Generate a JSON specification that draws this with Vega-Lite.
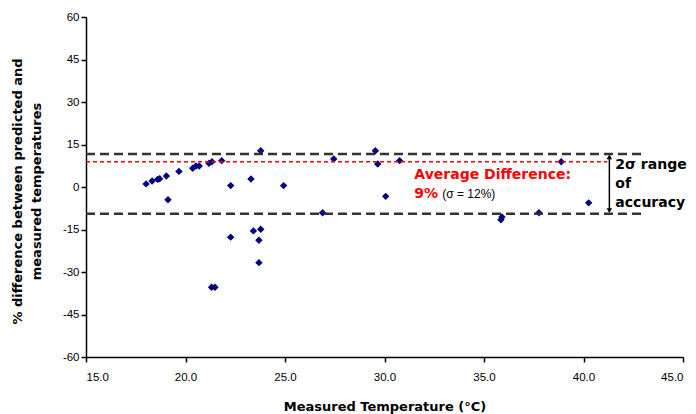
{
  "$schema": "https://vega.github.io/schema/vega-lite/v6.json",
  "width": 597,
  "height": 340,
  "autosize": {"type": "none"},
  "padding": {"left": 86, "top": 17, "right": 13, "bottom": 57},
  "background": "white",
  "config": {
    "view": {"stroke": null},
    "axis": {
      "grid": false,
      "domainColor": "#000000",
      "domainWidth": 1.5,
      "tickColor": "#000000",
      "tickWidth": 1.5,
      "tickSize": 5,
      "labelFont": "Liberation Sans",
      "labelFontSize": 11.5,
      "labelColor": "#000000",
      "titleFont": "DejaVu Sans",
      "titleFontWeight": "bold",
      "titleColor": "#000000"
    }
  },
  "layer": [
    {
      "data": {"values": [
        {"temp": 18.02, "diff": 1.1},
        {"temp": 18.32, "diff": 2.1},
        {"temp": 18.6, "diff": 2.7},
        {"temp": 18.7, "diff": 2.9},
        {"temp": 19.04, "diff": 3.9},
        {"temp": 19.12, "diff": -4.5},
        {"temp": 19.67, "diff": 5.5},
        {"temp": 20.36, "diff": 6.6},
        {"temp": 20.53, "diff": 7.4},
        {"temp": 20.69, "diff": 7.4},
        {"temp": 21.18, "diff": 8.4},
        {"temp": 21.33, "diff": 8.9},
        {"temp": 21.82, "diff": 9.3},
        {"temp": 22.27, "diff": 0.5},
        {"temp": 22.27, "diff": -17.7},
        {"temp": 23.29, "diff": 2.8},
        {"temp": 23.41, "diff": -15.5},
        {"temp": 23.78, "diff": -14.9},
        {"temp": 23.69, "diff": -18.8},
        {"temp": 23.69, "diff": -26.7},
        {"temp": 23.78, "diff": 12.8},
        {"temp": 24.93, "diff": 0.5},
        {"temp": 21.31, "diff": -35.4},
        {"temp": 21.48, "diff": -35.4},
        {"temp": 27.45, "diff": 9.9},
        {"temp": 29.54, "diff": 12.8},
        {"temp": 29.66, "diff": 8.1},
        {"temp": 30.76, "diff": 9.3},
        {"temp": 30.06, "diff": -3.3},
        {"temp": 26.89, "diff": -9.1},
        {"temp": 38.88, "diff": 8.9},
        {"temp": 40.26, "diff": -5.6},
        {"temp": 37.76, "diff": -9.1},
        {"temp": 35.85, "diff": -11.6},
        {"temp": 35.9, "diff": -10.6}
      ]},
      "mark": {"type": "point", "shape": "diamond", "filled": true, "size": 55, "color": "#000080", "opacity": 1},
      "encoding": {
        "x": {
          "field": "temp", "type": "quantitative",
          "scale": {"domain": [15, 45], "nice": false, "zero": false},
          "axis": {
            "values": [15, 20, 25, 30, 35, 40, 45],
            "format": ".1f",
            "labelPadding": 9,
            "title": "Measured Temperature (°C)",
            "titleFontSize": 13,
            "titleBaseline": "alphabetic",
            "titleY": 53
          }
        },
        "y": {
          "field": "diff", "type": "quantitative",
          "scale": {"domain": [-60, 60], "nice": false},
          "axis": {
            "values": [-60, -45, -30, -15, 0, 15, 30, 45, 60],
            "format": "d",
            "labelExpr": "replace(datum.label, '\u2212', '-')",
            "labelPadding": 2,
            "title": ["% difference between predicted and", "measured temperatures"],
            "titleFontSize": 13,
            "titleLineHeight": 19,
            "titleAngle": -90,
            "titleAlign": "center",
            "titleBaseline": "middle",
            "titleX": -69,
            "titleY": 174
          }
        }
      }
    },
    {
      "data": {"values": [{"diff": 11.65}, {"diff": -9.42}]},
      "mark": {"type": "rule", "strokeDash": [9, 5], "strokeWidth": 2.5, "color": "#333333"},
      "encoding": {
        "x": {"datum": 15, "type": "quantitative"},
        "x2": {"datum": 43.1},
        "y": {"field": "diff", "type": "quantitative"}
      }
    },
    {
      "data": {"values": [{"diff": 8.93}]},
      "mark": {"type": "rule", "strokeDash": [4, 3], "strokeWidth": 1.5, "color": "#ff0000"},
      "encoding": {
        "x": {"datum": 15, "type": "quantitative"},
        "x2": {"datum": 41.2},
        "y": {"field": "diff", "type": "quantitative"}
      }
    },
    {
      "data": {"values": [{}]},
      "mark": {"type": "rule", "strokeWidth": 1.5, "color": "#000000"},
      "encoding": {
        "x": {"datum": 41.3, "type": "quantitative"},
        "y": {"datum": 10.8, "type": "quantitative"},
        "y2": {"datum": -8.6}
      }
    },
    {
      "data": {"values": [{}]},
      "mark": {"type": "point", "shape": "triangle-up", "filled": true, "size": 30, "color": "#000000", "opacity": 1},
      "encoding": {
        "x": {"datum": 41.3, "type": "quantitative"},
        "y": {"datum": 10.6, "type": "quantitative"}
      }
    },
    {
      "data": {"values": [{}]},
      "mark": {"type": "point", "shape": "triangle-down", "filled": true, "size": 30, "color": "#000000", "opacity": 1},
      "encoding": {
        "x": {"datum": 41.3, "type": "quantitative"},
        "y": {"datum": -8.35, "type": "quantitative"}
      }
    },
    {
      "data": {"values": [{}]},
      "mark": {"type": "text", "text": "Average Difference:", "align": "left", "baseline": "middle", "font": "DejaVu Sans", "fontWeight": "bold", "fontSize": 14, "color": "#ff0000"},
      "encoding": {
        "x": {"datum": 31.5, "type": "quantitative"},
        "y": {"datum": 4.2, "type": "quantitative"}
      }
    },
    {
      "data": {"values": [{}]},
      "mark": {"type": "text", "text": "9%", "align": "left", "baseline": "middle", "font": "DejaVu Sans", "fontWeight": "bold", "fontSize": 14, "color": "#ff0000"},
      "encoding": {
        "x": {"datum": 31.5, "type": "quantitative"},
        "y": {"datum": -2.5, "type": "quantitative"}
      }
    },
    {
      "data": {"values": [{}]},
      "mark": {"type": "text", "text": "(σ = 12%)", "align": "left", "baseline": "middle", "font": "Liberation Sans", "fontSize": 12, "color": "#000000"},
      "encoding": {
        "x": {"datum": 32.9, "type": "quantitative"},
        "y": {"datum": -2.5, "type": "quantitative"}
      }
    },
    {
      "data": {"values": [{"t": "2σ range", "diff": 7.8}, {"t": "of", "diff": 1.1}, {"t": "accuracy", "diff": -5.6}]},
      "mark": {"type": "text", "align": "left", "baseline": "middle", "font": "DejaVu Sans", "fontWeight": "bold", "fontSize": 14, "color": "#000000"},
      "encoding": {
        "text": {"field": "t"},
        "x": {"datum": 41.6, "type": "quantitative"},
        "y": {"field": "diff", "type": "quantitative"}
      }
    }
  ]
}
